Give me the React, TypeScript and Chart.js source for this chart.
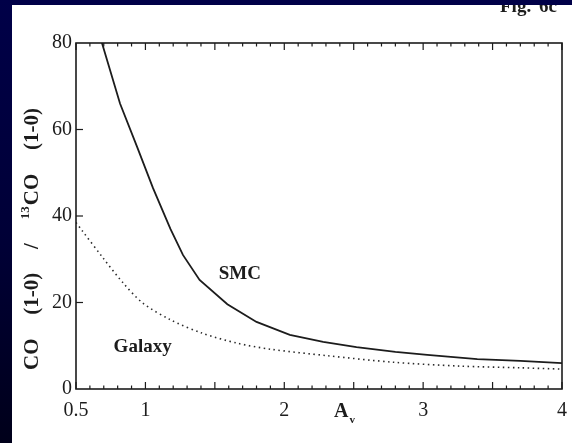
import React, { useEffect, useRef } from "react";
import { Chart, registerables } from "chart.js";

Chart.register(...registerables);

// ---- data ----
const smcAv = [0.66, 0.687, 0.817, 0.94, 1.054, 1.18, 1.27, 1.39, 1.59, 1.8, 2.04, 2.28, 2.52, 2.8, 3.03, 3.39, 3.7, 4.0];
const smcRatio = [83, 80, 66, 56, 46.5, 37, 31, 25.2, 19.6, 15.5, 12.5, 10.9, 9.7, 8.6, 7.9, 6.9, 6.5, 6.0];

const galAv = [0.5, 0.54, 0.69, 0.84, 0.98, 1.18, 1.41, 1.66, 1.9, 2.31, 2.78, 3.26, 3.7, 4.0];
const galRatio = [38.5, 36.8, 30.5, 24.5, 19.9, 16.0, 12.9, 10.6, 9.2, 7.7, 6.2, 5.3, 4.9, 4.6];

const xTickValues = [0.5, 1, 2, 3, 4];
const yTickValues = [0, 20, 40, 60, 80];
const xMin = 0.5;
const xMax = 4;
const yMin = 0;
const yMax = 80;

const SERIF = "'Liberation Serif', 'DejaVu Serif', serif";
const INK = "#1c1c1c";

const decorPlugin = {
  id: "decor",
  afterDatasetsDraw(chart: any) {
    const ctx = chart.ctx as CanvasRenderingContext2D;
    const { left, right, top, bottom } = chart.chartArea;
    const xs = chart.scales.x;
    const ys = chart.scales.y;
    ctx.save();
    ctx.strokeStyle = INK;
    ctx.fillStyle = INK;
    // frame
    ctx.lineWidth = 1.6;
    ctx.strokeRect(left, top, right - left, bottom - top);
    // x minor/major ticks, bottom and top, inside
    ctx.lineWidth = 1.2;
    for (let i = 5; i <= 40; i++) {
      const px = xs.getPixelForValue(i / 10);
      const len = i % 5 === 0 ? 7 : 3.5;
      ctx.beginPath();
      ctx.moveTo(px, bottom);
      ctx.lineTo(px, bottom - len);
      ctx.moveTo(px, top);
      ctx.lineTo(px, top + len);
      ctx.stroke();
    }
    // y ticks, left inside
    for (const v of [20, 40, 60]) {
      const py = ys.getPixelForValue(v);
      ctx.beginPath();
      ctx.moveTo(left, py);
      ctx.lineTo(left + 7, py);
      ctx.stroke();
    }
    // curve labels
    ctx.font = `bold 19px ${SERIF}`;
    ctx.textAlign = "center";
    ctx.textBaseline = "middle";
    ctx.fillText("SMC", xs.getPixelForValue(1.68), ys.getPixelForValue(26.6));
    ctx.fillText("Galaxy", xs.getPixelForValue(0.98), ys.getPixelForValue(9.6));

    // A_v axis label
    const ax = xs.getPixelForValue(2.41);
    ctx.font = `bold 20px ${SERIF}`;
    ctx.textAlign = "center";
    ctx.textBaseline = "alphabetic";
    ctx.fillText("A", ax, 412);
    ctx.font = `bold 11px ${SERIF}`;
    ctx.fillText("v", ax + 11, 418);

    // Fig. 6c (cut at the top)
    ctx.font = `bold 19px ${SERIF}`;
    ctx.textAlign = "left";
    ctx.fillText("Fig.", 488, 7);
    ctx.fillText("6c", 527, 7);

    // y-axis title, rotated
    ctx.translate(21, 0);
    ctx.rotate(-Math.PI / 2);
    const startY = 365;
    const endY = 103;
    const big = `bold 21px ${SERIF}`;
    const sup = `bold 13px ${SERIF}`;
    ctx.font = big;
    const wCO = ctx.measureText("CO").width;
    const wP = ctx.measureText("(1-0)").width;
    const wS = ctx.measureText("/").width;
    ctx.font = sup;
    const w13 = ctx.measureText("13").width;
    const total = wCO + wP + wS + (w13 + 1 + wCO) + wP;
    const gap = (startY - endY - total) / 4;
    ctx.textBaseline = "middle";
    ctx.textAlign = "left";
    let pos = -startY;
    ctx.font = big;
    ctx.fillText("CO", pos, 0);
    pos += wCO + gap;
    ctx.fillText("(1-0)", pos, 0);
    pos += wP + gap;
    ctx.fillText("/", pos, 0);
    pos += wS + gap;
    ctx.font = sup;
    ctx.fillText("13", pos, -7);
    pos += w13 + 1;
    ctx.font = big;
    ctx.fillText("CO", pos, 0);
    pos += wCO + gap;
    ctx.fillText("(1-0)", pos, 0);
    ctx.restore();
  },
};

export default function App() {
  const ref = useRef<HTMLCanvasElement | null>(null);
  useEffect(() => {
    if (!ref.current) return;
    const chart = new Chart(ref.current, {
      type: "line",
      data: {
        datasets: [
          {
            label: "SMC",
            data: smcAv.map((x, i) => ({ x, y: smcRatio[i] })),
            borderColor: INK,
            borderWidth: 1.8,
            pointRadius: 0,
            tension: 0,
            fill: false,
          },
          {
            label: "Galaxy",
            data: galAv.map((x, i) => ({ x, y: galRatio[i] })),
            borderColor: "#2a2a2a",
            borderWidth: 1.6,
            borderDash: [1.5, 3.5],
            pointRadius: 0,
            tension: 0.3,
            fill: false,
          },
        ],
      },
      options: {
        animation: false,
        responsive: false,
        devicePixelRatio: 1,
        layout: { padding: { left: 0, right: 10, top: 38, bottom: 0 } },
        plugins: {
          legend: { display: false },
          tooltip: { enabled: false },
          title: { display: false },
        },
        scales: {
          x: {
            type: "linear",
            min: xMin,
            max: xMax,
            afterBuildTicks: (s: any) => {
              s.ticks = xTickValues.map((v) => ({ value: v }));
            },
            afterFit: (s: any) => {
              s.height = 54;
              s.paddingLeft = 0;
              s.paddingRight = 0;
            },
            grid: { display: false, drawTicks: false },
            border: { display: false },
            ticks: {
              color: INK,
              padding: 10,
              maxRotation: 0,
              autoSkip: false,
              font: { family: SERIF, size: 20 },
              callback: (v: any) => String(v),
            },
          },
          y: {
            type: "linear",
            min: yMin,
            max: yMax,
            afterBuildTicks: (s: any) => {
              s.ticks = yTickValues.map((v) => ({ value: v }));
            },
            afterFit: (s: any) => {
              s.width = 64;
              s.paddingTop = 0;
              s.paddingBottom = 0;
            },
            grid: { display: false, drawTicks: false },
            border: { display: false },
            ticks: {
              color: INK,
              padding: 4,
              font: { family: SERIF, size: 20 },
            },
          },
        },
      },
      plugins: [decorPlugin],
    });
    return () => chart.destroy();
  }, []);

  return (
    <div
      style={{
        position: "fixed",
        left: 0,
        top: 0,
        width: 572,
        height: 443,
        overflow: "hidden",
        background: "linear-gradient(180deg, #000048 0%, #000036 55%, #00001a 100%)",
      }}
    >
      <canvas
        ref={ref}
        width={560}
        height={438}
        style={{ position: "absolute", left: 12, top: 5, background: "#ffffff", display: "block" }}
      />
    </div>
  );
}
